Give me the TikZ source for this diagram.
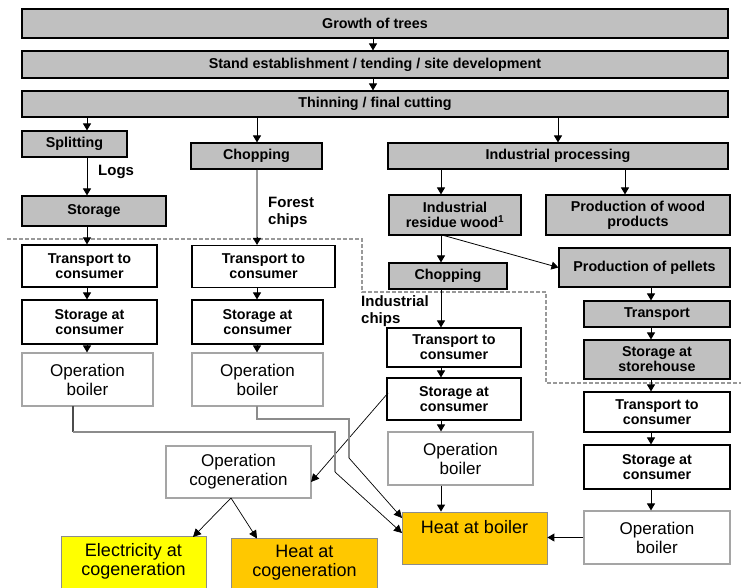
\documentclass[tikz,border=0pt]{standalone}
\usepackage{fontspec}
\setmainfont{Liberation Sans}
\usetikzlibrary{arrows.meta}
\definecolor{boxgray}{RGB}{192,192,192}
\definecolor{gold}{RGB}{255,200,0}
\definecolor{yel}{RGB}{255,255,0}
\definecolor{lgray}{RGB}{165,165,165}
\tikzset{
  gbox/.style={draw, line width=1.1pt, fill=boxgray, align=center, inner sep=0pt,
    font=\bfseries\fontsize{14.3}{15}\selectfont},
  wbox/.style={draw, line width=1.1pt, fill=white, align=center, inner sep=0pt,
    font=\bfseries\fontsize{14.3}{15}\selectfont},
  obox/.style={draw=lgray, line width=1.1pt, fill=white, align=center, inner sep=0pt,
    font=\fontsize{17}{19}\selectfont},
  cbox/.style={draw=black!45, line width=0.8pt, inner sep=0pt},
  ctext/.style={align=center, inner sep=0pt, font=\fontsize{18}{19}\selectfont},
  lbl/.style={align=left, anchor=west, inner sep=0pt, font=\bfseries\fontsize{15}{17}\selectfont},
  arr/.style={line width=1pt, -{Triangle[length=7pt,width=8pt]}},
  thinarr/.style={line width=0.7pt, -{Triangle[length=8pt,width=8pt]}},
  gline/.style={line width=1.3pt, draw=black!45},
  dsh/.style={draw=black!40, line width=1.1pt, dash pattern=on 4pt off 2pt},
}
\begin{document}
\begin{tikzpicture}[x=1pt,y=-1pt]
\useasboundingbox (0,0) rectangle (741,588);
\clip (0,0) rectangle (741,588);
\fill[white] (0,0) rectangle (741,588);

% dashed boundary
\coordinate (d0) at (7,239);
\coordinate (d1) at (362,239);
\coordinate (d2) at (362,292);
\coordinate (d3) at (546,292);
\coordinate (d4) at (546,383);
\coordinate (d5) at (741,383);
\draw[dsh] (d0) -- (d1) -- (d2) -- (d3) -- (d4) -- (d5);

% top rows
\node[gbox, minimum width=706, minimum height=29] (g1) at (375,23.5) {Growth of trees};
\node[gbox, minimum width=706, minimum height=27] (g2) at (375,64.5) {Stand establishment / tending / site development};
\node[gbox, minimum width=706, minimum height=26] (g3) at (375,104) {Thinning / final cutting};

% x positions of columns
\coordinate (xa) at (87,0);
\coordinate (xb) at (257,0);
\coordinate (xc) at (441,0);
\coordinate (xd) at (625,0);
\coordinate (xe) at (651,0);
\coordinate (xm) at (373,0);

% column 1
\node[gbox, minimum width=105, minimum height=26] (split) at (74.5,144) {Splitting};
\node[gbox, minimum width=144, minimum height=30] (stor) at (94,211) {Storage};
\node[wbox, minimum width=135, minimum height=42] (tc1) at (89.5,266) {Transport to\\consumer};
\node[wbox, minimum width=135, minimum height=44] (sc1) at (89.5,322) {Storage at\\consumer};
\node[obox, minimum width=131, minimum height=53] (ob1) at (87.5,379.5) {Operation\\boiler};

% column 2
\node[gbox, minimum width=131, minimum height=26] (chop1) at (256.5,156) {Chopping};
\node[wbox, minimum width=143, minimum height=42] (tc2) at (263.5,266.5) {Transport to\\consumer};
\node[wbox, minimum width=131, minimum height=44] (sc2) at (257.5,322) {Storage at\\consumer};
\node[obox, minimum width=131, minimum height=53] (ob2) at (257.5,379.5) {Operation\\boiler};

% column 3
\node[gbox, minimum width=340, minimum height=26] (indp) at (558,156) {Industrial processing};
\node[gbox, minimum width=132, minimum height=40] (irw) at (455,215) {Industrial\\residue wood\textsuperscript{1}};
\node[gbox, minimum width=118, minimum height=26] (chop2) at (448,276) {Chopping};
\node[wbox, minimum width=134, minimum height=39] (tc3) at (454,347.5) {Transport to\\consumer};
\node[wbox, minimum width=134, minimum height=42] (sc3) at (454,399) {Storage at\\consumer};
\node[obox, minimum width=145, minimum height=53] (ob3) at (460.5,458.5) {Operation\\boiler};

% column 4
\node[gbox, minimum width=184, minimum height=40] (pwp) at (638,215) {Production of wood\\products};
\node[gbox, minimum width=171, minimum height=39] (pel) at (644.5,267.5) {Production of pellets};
\node[gbox, minimum width=146, minimum height=26] (trn) at (657,314) {Transport};
\node[gbox, minimum width=146, minimum height=39] (ssh) at (657,359.5) {Storage at\\storehouse};
\node[wbox, minimum width=146, minimum height=40] (tc4) at (657,412) {Transport to\\consumer};
\node[wbox, minimum width=146, minimum height=44] (sc4) at (657,467) {Storage at\\consumer};
\node[obox, minimum width=146, minimum height=53] (ob4) at (657,537.5) {Operation\\boiler};

% results
\node[obox, minimum width=145, minimum height=52] (oc) at (238.5,472) {Operation\\cogeneration};
\node[cbox, fill=gold, minimum width=145, minimum height=52] (hb) at (474.5,538) {};
\node[ctext] (hbt) at (474.5,527) {Heat at boiler};
\node[cbox, fill=yel, minimum width=145, minimum height=70] (el) at (133.5,571) {};
\node[ctext] (elt) at (133.5,561.5) {Electricity at\\cogeneration};
\node[cbox, fill=gold, minimum width=146, minimum height=70] (hc) at (304.5,573) {};
\node[ctext] (hct) at (304.5,562.5) {Heat at\\cogeneration};

% labels
\node[lbl] (logs) at (98,172) {Logs};
\node[lbl] (fch) at (268,212) {Forest\\chips};
\node[lbl] (ich) at (361,311) {Industrial\\chips};

% arrows top
\draw[arr] (g1.south -| xm) -- (g2.north -| xm);
\draw[arr] (g2.south -| xm) -- (g3.north -| xm);
\draw[arr] (g3.south -| xa) -- (split.north -| xa);
\draw[arr] (g3.south -| xb) -- (chop1.north -| xb);
\draw[arr] (g3.south -| indp) -- (indp.north);

% column 1
\draw[arr] (split.south -| xa) -- (stor.north -| xa);
\draw[arr] (stor.south -| xa) -- (tc1.north -| xa);
\draw[arr] (tc1.south -| xa) -- (sc1.north -| xa);
\draw[arr] (sc1.south -| xa) -- (ob1.north -| xa);

% column 2
\draw[line width=1.3pt, draw=black!40] (chop1.south -| xb) -- ([yshift=6pt]tc2.north -| xb);
\draw[arr] ([yshift=8pt]tc2.north -| xb) -- (tc2.north -| xb);
\draw[arr] (tc2.south -| xb) -- (sc2.north -| xb);
\draw[arr] (sc2.south -| xb) -- (ob2.north -| xb);

% column 3
\draw[arr] (indp.south -| xc) -- (irw.north -| xc);
\draw[arr] (indp.south -| xd) -- (pwp.north -| xd);
\draw[arr] (irw.south -| xc) -- (chop2.north -| xc);
\draw[arr] (chop2.south -| xc) -- (tc3.north -| xc);
\draw[arr] (tc3.south -| xc) -- (sc3.north -| xc);
\draw[arr] (sc3.south -| xc) -- (ob3.north -| xc);
\draw[arr] (ob3.south -| xc) -- (hb.north -| xc);
\coordinate (irwo) at (442,235);
\draw[arr, line width=0.8pt] (irwo) -- (pel.west);

% column 4
\draw[arr] (pel.south -| xe) -- (trn.north -| xe);
\draw[arr] (trn.south -| xe) -- (ssh.north -| xe);
\draw[arr] (ssh.south -| xe) -- (tc4.north -| xe);
\draw[arr] (tc4.south -| xe) -- (sc4.north -| xe);
\draw[arr] (sc4.south -| xe) -- (ob4.north -| xe);
\draw[arr] (ob4.west) -- (ob4.west -| hb.east);

% cogeneration
\coordinate (sc3o) at (388,393);
\coordinate (oci) at (311,482);
\draw[thinarr] (sc3o) -- (oci);
\coordinate (oco) at (231,498);
\draw[thinarr] (oco) -- (193,537);
\draw[thinarr] (oco) -- (257,538.5);

% boiler paths into heat at boiler
\coordinate (p1a) at (73,406);
\coordinate (p1b) at (73,432);
\coordinate (p1c) at (335,432);
\coordinate (p1d) at (335,472);
\coordinate (h1) at (402,533);
\draw[line width=1.2pt, draw=black!70] (p1a) -- (p1b);
\draw[gline] (p1b) -- (p1c) -- (p1d);
\draw[thinarr] (p1d) -- (h1);

\coordinate (p2a) at (257,406);
\coordinate (p2b) at (257,419);
\coordinate (p2c) at (349,419);
\coordinate (p2d) at (349,458);
\coordinate (h2) at (402,518);
\draw[gline] (p2a) -- (p2b) -- (p2c) -- (p2d);
\draw[thinarr] (p2d) -- (h2);
\end{tikzpicture}
\end{document}
